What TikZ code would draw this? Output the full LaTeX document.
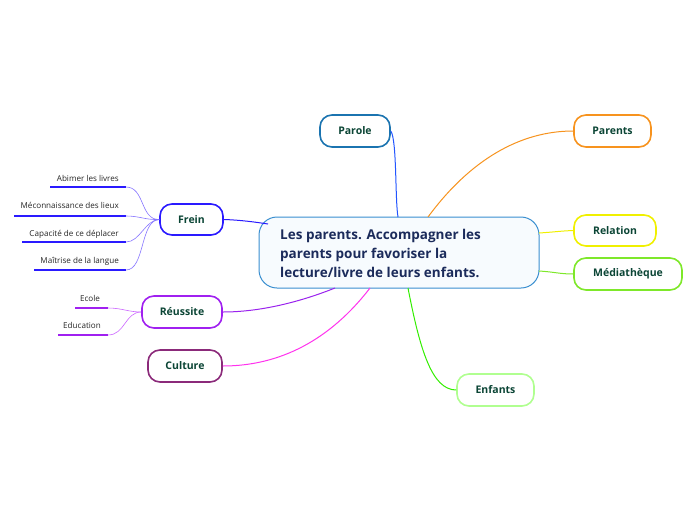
\documentclass[tikz,border=0pt]{standalone}
\usepackage{fontspec}
\setmainfont{Open Sans}
\definecolor{nodetext}{HTML}{0B4535}
\definecolor{centertext}{HTML}{1B2B5B}
\definecolor{cblue}{HTML}{3A8FD0}
\definecolor{cfill}{HTML}{F7FBFE}
\definecolor{paroleb}{HTML}{1B74B0}
\definecolor{parentsc}{HTML}{F7931E}
\definecolor{relc}{HTML}{F0F000}
\definecolor{medc}{HTML}{7EE82A}
\definecolor{enfc}{HTML}{B0FF90}
\definecolor{enfl}{HTML}{33EE00}
\definecolor{culc}{HTML}{8B2A7A}
\definecolor{cull}{HTML}{FF33EE}
\definecolor{reuc}{HTML}{A020F0}
\definecolor{reul}{HTML}{9A22EE}
\definecolor{reuleaf}{HTML}{CC66FF}
\definecolor{freinc}{HTML}{2A1AFF}
\definecolor{freinleaf}{HTML}{8877FF}
\definecolor{parl}{HTML}{2255FF}
\tikzset{
  topic/.style={draw, line width=1.6pt, rounded corners=12pt, fill=white, text=nodetext,
    font=\fontsize{10.5}{12}\selectfont\bfseries, minimum height=32pt, inner sep=0pt},
  leaftext/.style={font=\fontsize{8.1}{9}\selectfont, text=black!85, inner sep=0pt, anchor=base east},
  conn/.style={line width=1pt},
  leafconn/.style={line width=0.6pt},
  uline/.style={line width=2pt}
}
\begin{document}
\begin{tikzpicture}[x=1pt,y=-1pt]
\useasboundingbox[fill=white] (0,0) rectangle (696,520);
% central
\node[draw=cblue, line width=1pt, rounded corners=18pt, fill=cfill, minimum width=280pt, minimum height=71pt, inner sep=0pt] (c) at (399,252.5) {};
\node[anchor=west, text=centertext, font=\fontsize{13.5}{19}\selectfont\bfseries, align=left, inner sep=0pt] (ct) at (280,253) {Les parents. Accompagner les\\parents pour favoriser la\\lecture/livre de leurs enfants.};
% topics
\node[topic, draw=paroleb, minimum width=70pt] (parole) at (355,131) {Parole};
\node[topic, draw=parentsc, minimum width=77pt] (parents) at (612.5,131) {Parents};
\node[topic, draw=relc, minimum width=82pt, minimum height=31pt] (relation) at (615,230.5) {Relation};
\node[topic, draw=medc, minimum width=108pt] (media) at (628,274) {Médiathèque};
\node[topic, draw=enfc, minimum width=77pt] (enfants) at (495.5,390) {Enfants};
\node[topic, draw=culc, minimum width=74pt] (culture) at (185,366) {Culture};
\node[topic, draw=reuc, minimum width=80pt] (reussite) at (182,312) {Réussite};
\node[topic, draw=freinc, minimum width=63pt, minimum height=31pt] (frein) at (191.5,219.5) {Frein};
% anchor coordinates on central
\coordinate (cP) at (398,217);
\coordinate (cPa) at (428,217);
\coordinate (cR) at (539,233);
\coordinate (cM) at (539,271);
\coordinate (cE) at (408,288);
\coordinate (cC) at (370,288);
\coordinate (cRe) at (335,288);
\coordinate (cF) at (268,224);
% main connectors
\draw[conn, parl] (parole.east) .. controls (397,140) and (395,200) .. (cP);
\draw[conn, parentsc] (cPa) .. controls (470,160) and (520,131) .. (parents.west);
\draw[conn, relc] (cR) .. controls (555,232) and (560,231) .. (relation.west);
\draw[conn, medc] (cM) .. controls (555,272) and (560,274) .. (media.west);
\draw[conn, enfl] (cE) .. controls (420,350) and (432,390) .. (enfants.west);
\draw[conn, cull] (cC) .. controls (330,340) and (280,366) .. (culture.east);
\draw[conn, reul] (cRe) .. controls (300,302) and (260,312) .. (reussite.east);
\draw[conn, freinc] (frein.east) .. controls (240,220) and (255,222) .. (cF);
% Frein leaves
\node[leaftext] (l1) at (119,181) {Abimer les livres};
\node[leaftext] (l2) at (119,208) {Méconnaissance des lieux};
\node[leaftext] (l3) at (119,236) {Capacité de ce déplacer};
\node[leaftext] (l4) at (119,263) {Maîtrise de la langue};
\coordinate (u1a) at (50,187); \coordinate (u1b) at (126,187);
\coordinate (u2a) at (14,216); \coordinate (u2b) at (126,216);
\coordinate (u3a) at (22,242); \coordinate (u3b) at (126,242);
\coordinate (u4a) at (34,270); \coordinate (u4b) at (126,270);
\draw[uline, freinc] (u1a) -- (u1b);
\draw[uline, freinc] (u2a) -- (u2b);
\draw[uline, freinc] (u3a) -- (u3b);
\draw[uline, freinc] (u4a) -- (u4b);
\draw[leafconn, freinleaf] (u1b) .. controls (145,187) and (140,220) .. (frein.west);
\draw[leafconn, freinleaf] (u2b) .. controls (140,216) and (145,220) .. (frein.west);
\draw[leafconn, freinleaf] (u3b) .. controls (140,242) and (145,220) .. (frein.west);
\draw[leafconn, freinleaf] (u4b) .. controls (145,270) and (140,220) .. (frein.west);
% Réussite leaves
\node[leaftext, anchor=base] (e1) at (90,301) {Ecole};
\node[leaftext, anchor=base] (e2) at (82,328) {Education};
\coordinate (v1a) at (75,308); \coordinate (v1b) at (108,308);
\coordinate (v2a) at (58,335); \coordinate (v2b) at (108,335);
\draw[uline, reuc] (v1a) -- (v1b);
\draw[uline, reuc] (v2a) -- (v2b);
\draw[leafconn, reuleaf] (v1b) .. controls (122,308) and (128,312) .. (reussite.west);
\draw[leafconn, reuleaf] (v2b) .. controls (125,335) and (125,312) .. (reussite.west);
\end{tikzpicture}
\end{document}
